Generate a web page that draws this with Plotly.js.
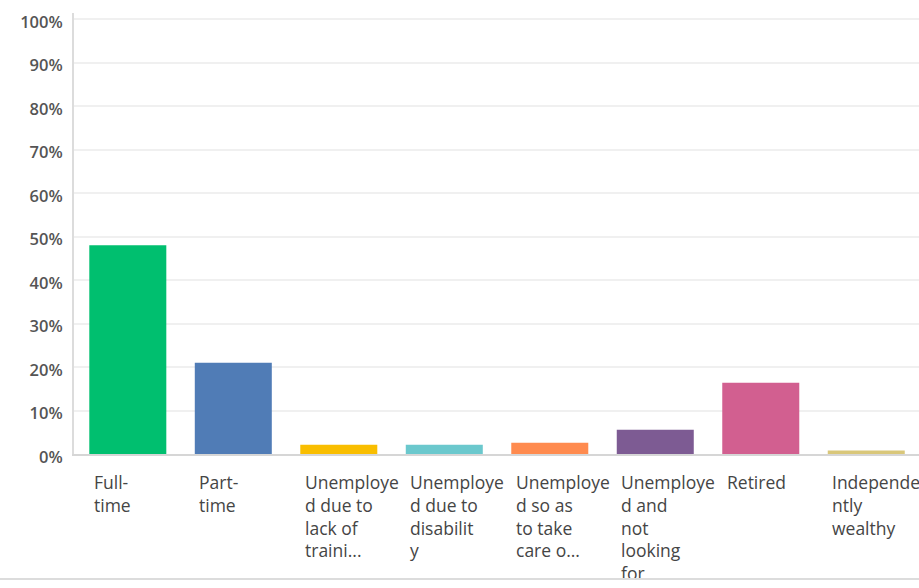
<!DOCTYPE html>
<html>
<head>
<meta charset="utf-8">
<script src="https://cdn.plot.ly/plotly-3.0.1.min.js"></script>
<style>
html,body{margin:0;padding:0;background:#fff;overflow:hidden;}
#wrap{width:919px;height:578px;overflow:hidden;border-bottom:2px solid #dcdcdc;}
#chart{width:919px;height:588px;}
</style>
</head>
<body>
<div id="wrap"><div id="chart"></div></div>
<script>
var categories = ["Full-time","Part-time","Unemployed due to lack of training","Unemployed due to disability","Unemployed so as to take care of","Unemployed and not looking for","Retired","Independently wealthy"];
var tickLabels = ["Full-<br>time","Part-<br>time","Unemploye<br>d due to<br>lack of<br>traini...","Unemploye<br>d due to<br>disabilit<br>y","Unemploye<br>d so as<br>to take<br>care o...","Unemploye<br>d and<br>not<br>looking<br>for","Retired","Independe<br>ntly<br>wealthy"];
var values = [48.0, 21.0, 2.1, 2.1, 2.6, 5.6, 16.4, 0.8];
var colors = ["#00BF6F","#507CB6","#F9BE00","#6BC8CD","#FF8B4F","#7D5B93","#D25F90","#D9C77A"];
var yTicks = [0,10,20,30,40,50,60,70,80,90,100];
var yTickText = yTicks.map(function(v){return v+"%";});

var idx = categories.map(function(c,i){return i;});
var trace = {
  type: "bar",
  x: idx,
  y: values,
  marker: {color: colors, line: {width: 0}},
  hoverinfo: "none"
};
var annotations = tickLabels.map(function(t,i){
  return {
    x: i - 0.34, xref: "x", xanchor: "left",
    y: 1, yref: "paper", yanchor: "top", yshift: -(441 + 14),
    text: t, showarrow: false, align: "left",
    font: {family: "Open Sans, sans-serif", size: 17.5, color: "#454545"}
  };
});
var layout = {
  width: 919, height: 588,
  margin: {l: 74, r: 0, t: 13, b: 134},
  paper_bgcolor: "#fff", plot_bgcolor: "#fff",
  bargap: 0.27,
  showlegend: false,
  xaxis: {range: [-0.51, 7.5], showticklabels: false, ticks: "", showgrid: false, zeroline: false,
          showline: true, linecolor: "#d6d6d6", linewidth: 2, fixedrange: true},
  yaxis: {range: [0, 101.4], tickvals: yTicks, ticktext: yTickText, showgrid: true, gridcolor: "#f0f0f0", gridwidth: 2,
          zeroline: false, showline: true, linecolor: "#dcdcdc", linewidth: 2, ticks: "", ticklen: 0,
          ticklabelstandoff: 6, ticklabelshift: 3,
          tickfont: {family: "Open Sans, sans-serif", size: 16.5, color: "#555", weight: 600}, fixedrange: true},
  annotations: annotations
};
Plotly.newPlot("chart", [trace], layout, {displayModeBar: false, staticPlot: true});
</script>
</body>
</html>
